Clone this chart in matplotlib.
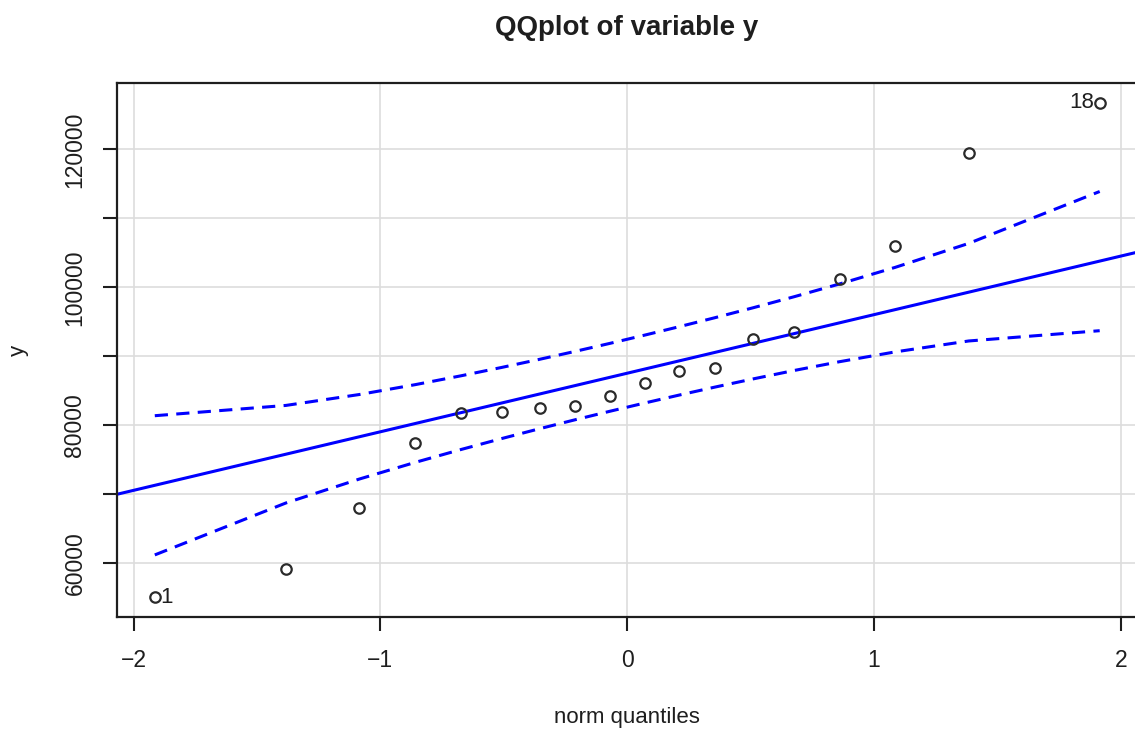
import numpy as np
import matplotlib
matplotlib.use("Agg")
import matplotlib.pyplot as plt

# ---- data ----
z = [-1.914, -1.383, -1.085, -0.861, -0.674, -0.509, -0.355, -0.210, -0.070,
     0.070, 0.210, 0.355, 0.509, 0.674, 0.861, 1.085, 1.383, 1.914]
y = [55100, 59200, 68100, 77450, 81800, 81950, 82500, 82800, 84250,
     86150, 87900, 88300, 92500, 93550, 101200, 106000, 119450, 126750]
labelled = {0: "1", 17: "18"}
x_ticks = [-2, -1, 0, 1, 2]
y_ticks = [60000, 70000, 80000, 90000, 100000, 110000, 120000]
y_ticklabels = ["60000", "", "80000", "", "100000", "", "120000"]

plt.rcParams['font.family'] = ['Liberation Sans', 'DejaVu Sans']
plt.rcParams['lines.scale_dashes'] = False
TXT = '#1e1e1e'

z = np.array(z); yv = np.array(y)
n = len(yv)
# quartile line (as car::qqPlot)
q1, q3 = np.quantile(yv, [0.25, 0.75])
zq = 0.6744897501960817
slope = (q3 - q1) / (2 * zq)
intercept = (q1 + q3) / 2
P = (np.arange(1, n + 1) - 0.5) / n
dens = np.exp(-z ** 2 / 2) / np.sqrt(2 * np.pi)
se = (slope / dens) * np.sqrt(P * (1 - P) / n)
fit = intercept + slope * z
upper = fit + 1.959964 * se
lower = fit - 1.959964 * se

fig = plt.figure(figsize=(11.35, 7.33), dpi=100)
W, H = 1135, 733
left, right, top, bottom = 117, 1137.5, 83, 617
ax = fig.add_axes([left / W, 1 - bottom / H, (right - left) / W, (bottom - top) / H])

xr = z.max() - z.min(); yr = yv.max() - yv.min()
ax.set_xlim(z.min() - 0.04 * xr, z.max() + 0.04 * xr)
ax.set_ylim(yv.min() - 0.04 * yr, yv.max() + 0.04 * yr)

for t in x_ticks:
    ax.axvline(t, color='#dddddd', lw=1.2, zorder=0)
for t in y_ticks:
    ax.axhline(t, color='#dddddd', lw=1.2, zorder=0)

xx = np.array(ax.get_xlim())
ax.plot(xx, intercept + slope * xx, color='#0000ff', lw=2.2, zorder=2)
for band in (upper, lower):
    l, = ax.plot(z, band, color='#0000ff', lw=2.2, zorder=2)
    l.set_dashes((9.5, 6.0))

ax.plot(z, yv, 'o', ms=7.5, mfc='none', mec='#2a2a2a', mew=1.6, zorder=3)
for i, s in labelled.items():
    if z[i] < 0:
        ax.annotate(s, (z[i], yv[i]), xytext=(4, 0), textcoords='offset points',
                    ha='left', va='center', fontsize=16, color=TXT)
    else:
        ax.annotate(s, (z[i], yv[i]), xytext=(-4, 0), textcoords='offset points',
                    ha='right', va='center', fontsize=16, color=TXT)

ax.set_xticks(x_ticks)
ax.set_xticklabels([str(t).replace('-', '\u2212') for t in x_ticks])
ax.set_yticks(y_ticks)
ax.set_yticklabels(y_ticklabels, rotation=90, va='center')
ax.tick_params(axis='both', length=10, width=1.5, color=TXT, labelcolor=TXT,
               labelsize=16.5)
ax.tick_params(axis='x', pad=13)
ax.tick_params(axis='y', pad=12)
for sp in ax.spines.values():
    sp.set_linewidth(1.6)
    sp.set_color(TXT)

fig.text(627 / W, 1 - 28 / H, "QQplot of variable y", ha='center', va='center',
         fontsize=20, fontweight='bold', color=TXT)
fig.text(627 / W, 1 - 718 / H, "norm quantiles", ha='center', va='center',
         fontsize=16, color=TXT)
fig.text(18 / W, 1 - 350 / H, "y", ha='center', va='center', rotation=90,
         fontsize=16, color=TXT)

fig.savefig("out.png", dpi=100)
